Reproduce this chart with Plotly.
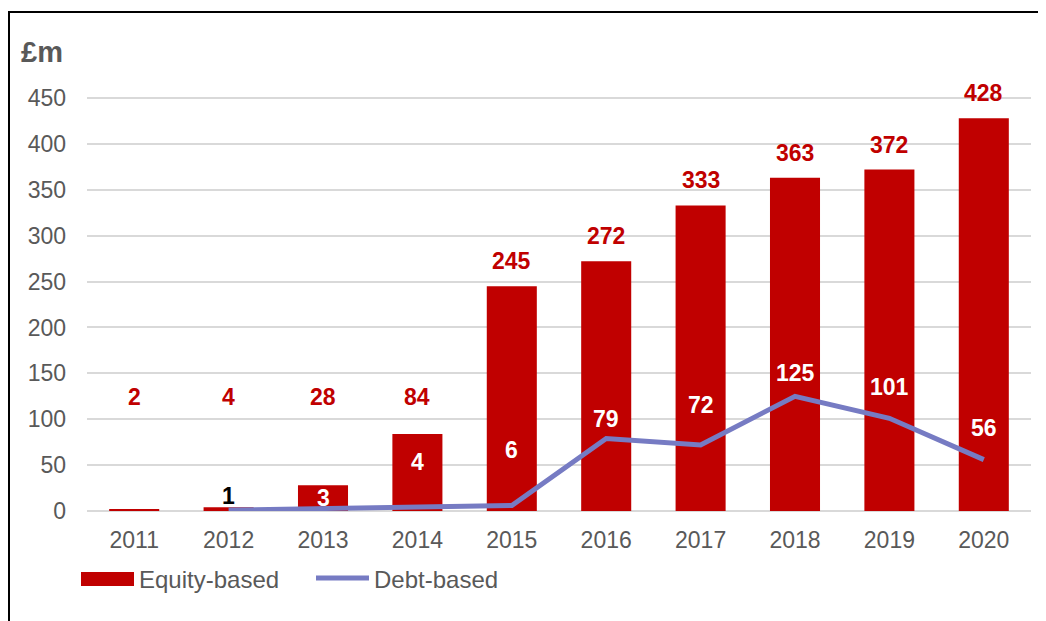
import plotly.graph_objects as go

years = ["2011", "2012", "2013", "2014", "2015", "2016", "2017", "2018", "2019", "2020"]
equity = [2, 4, 28, 84, 245, 272, 333, 363, 372, 428]
debt_years = ["2012", "2013", "2014", "2015", "2016", "2017", "2018", "2019", "2020"]
debt = [1, 3, 4, 6, 79, 72, 125, 101, 56]
debt_label_shift = [14, 10, 45, 55, 20, 40, 23, 31, 32]
debt_label_color = ["#000000"] + ["#FFFFFF"] * 8
y_ticks = [0, 50, 100, 150, 200, 250, 300, 350, 400, 450]

RED = "#C00000"
BLUE = "#767BC3"
GRAY = "#595959"
FONT = "Liberation Sans, Arial, sans-serif"

OFF = 8  # page body margin
W, H = 1046 - OFF, 621 - OFF
# page-pixel plot box: x 87..1031, y 90..511
L, R, T, B = 87 - OFF, 1046 - 1031, 90 - OFF, 621 - 511
pw, ph = W - L - R, H - T - B
ymax = ph / (413 / 450)

def px(x):  # page pixel -> paper
    return (x - OFF - L) / pw

def py(y):
    return (T + ph - (y - OFF)) / ph

fig = go.Figure()
fig.add_trace(go.Bar(x=years, y=equity, marker=dict(color=RED, line=dict(width=0)),
                     width=0.53, name="Equity-based", showlegend=False))
fig.add_trace(go.Scatter(x=debt_years, y=debt, mode="lines", line=dict(color=BLUE, width=5),
                         name="Debt-based", showlegend=False))

ann = []
for yr, v in zip(years, equity):
    ann.append(dict(x=years.index(yr), y=max(v, 97), yshift=25, text="<b>%d</b>" % v, showarrow=False,
                    xref="x", yref="y", yanchor="middle",
                    font=dict(family=FONT, size=23, color=RED)))
for yr, v, s, c in zip(debt_years, debt, debt_label_shift, debt_label_color):
    ann.append(dict(x=years.index(yr), y=v, yshift=s, text="<b>%d</b>" % v, showarrow=False,
                    xref="x", yref="y", yanchor="middle",
                    font=dict(family=FONT, size=23, color=c)))
ann.append(dict(x=px(42), y=py(52), xref="paper", yref="paper", text="<b>£m</b>", showarrow=False,
                xanchor="center", yanchor="middle", font=dict(family=FONT, size=29, color=GRAY)))
ann.append(dict(x=px(137), y=py(579), xref="paper", yref="paper", text="Equity-based", showarrow=False,
                xanchor="left", yanchor="middle", font=dict(family=FONT, size=24, color=GRAY)))
ann.append(dict(x=px(372), y=py(579), xref="paper", yref="paper", text="Debt-based", showarrow=False,
                xanchor="left", yanchor="middle", font=dict(family=FONT, size=24, color=GRAY)))

shapes = [
    dict(type="rect", xref="paper", yref="paper", x0=px(81), x1=px(134), y0=py(586), y1=py(572),
         fillcolor=RED, line=dict(width=0)),
    dict(type="line", xref="paper", yref="paper", x0=px(316), x1=px(369), y0=py(578), y1=py(578),
         line=dict(color=BLUE, width=5)),
    dict(type="line", xref="paper", yref="paper", x0=px(8), x1=px(1050), y0=py(12), y1=py(12),
         line=dict(color="#000000", width=2)),
    dict(type="line", xref="paper", yref="paper", x0=px(9), x1=px(9), y0=py(12), y1=py(625),
         line=dict(color="#000000", width=2)),
]

fig.update_layout(
    width=W, height=H,
    margin=dict(l=L, r=R, t=T, b=B),
    paper_bgcolor="white", plot_bgcolor="white",
    annotations=ann, shapes=shapes,
    xaxis=dict(type="category", range=[-0.5, len(years) - 0.5], autorange=False,
               tickfont=dict(family=FONT, size=23, color=GRAY),
               showgrid=False, ticks="", showline=False, zeroline=False, ticklabelstandoff=13),
    yaxis=dict(range=[0, ymax], autorange=False, tickvals=y_ticks,
               tickfont=dict(family=FONT, size=23, color=GRAY),
               showgrid=True, gridcolor="#D9D9D9", gridwidth=2, zeroline=True, zerolinecolor="#D9D9D9",
               zerolinewidth=2, ticks="", ticklabelstandoff=20),
    showlegend=False,
)
fig.write_html("out.html")
